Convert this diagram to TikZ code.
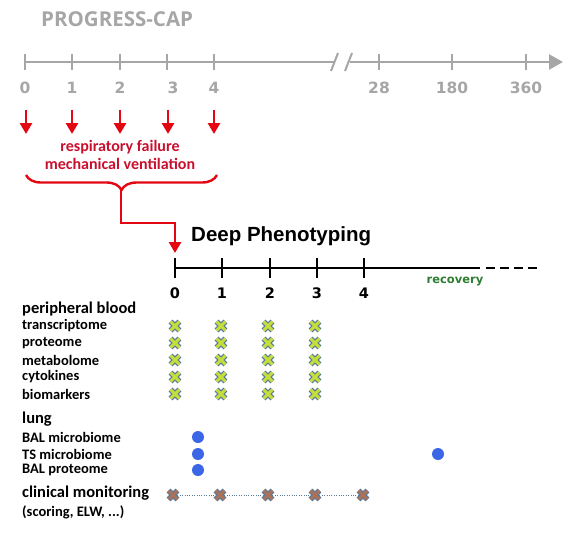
\documentclass[tikz,border=0pt]{standalone}
\usepackage{fontspec}
\setmainfont{Carlito}
\newfontfamily\numfont{DejaVu Sans}
\newfontfamily\headfont{Open Sans}
\newfontfamily\dpfont{Liberation Sans}
\usetikzlibrary{arrows.meta, positioning, shapes.misc, decorations.pathreplacing}

\definecolor{axisgray}{HTML}{A6A6A6}
\definecolor{arrowred}{HTML}{E30613}
\definecolor{textred}{HTML}{C8102E}
\definecolor{recgreen}{HTML}{2E7D32}
\definecolor{markline}{HTML}{5B7A99}
\definecolor{markfill}{HTML}{C6DE3C}
\definecolor{clinfill}{HTML}{A8735A}
\definecolor{dotblue}{HTML}{3B66E6}

\begin{document}
\begin{tikzpicture}[x=1pt, y=-1pt,
  every node/.style={inner sep=0pt},
  gaxis/.style={line width=2.6pt, axisgray},
  gnum/.style={font=\numfont\bfseries\fontsize{15.5}{15.5}\selectfont, text=axisgray},
  bnum/.style={font=\numfont\bfseries\fontsize{14.5}{14.5}\selectfont},
  redarrow/.style={-{Triangle[width=12pt, length=11pt]}, line width=2.8pt, arrowred},
  lbl/.style={font=\bfseries\fontsize{14.5}{14.5}\selectfont, anchor=west},
  hdr/.style={font=\bfseries\fontsize{16.5}{16.5}\selectfont, anchor=west},
  xmark/.style={cross out, minimum size=7.5pt, draw=markline, line width=1.3pt, double=markfill, double distance=3pt},
  clinmark/.style={xmark, double=clinfill},
  dot/.style={circle, fill=dotblue, minimum size=12pt}
]
\useasboundingbox (0,0) rectangle (581,547);

% Title
\node[font=\headfont\bfseries\fontsize{20.5}{20.5}\selectfont, text=axisgray, anchor=west] (title) at (41,19) {PROGRESS-CAP};

% Study time line (days)
\draw[gaxis] (25,62) -- (335,62);
\draw[gaxis, -{Triangle[width=15pt, length=14pt]}] (350,62) -- (563,62);
\draw[gaxis, line width=2pt] (331,71) -- (338,53);
\draw[gaxis, line width=2pt] (345,71) -- (352,53);
\foreach \x in {25,72,120,167,214,379,452,526}
  \draw[gaxis] (\x,54) -- (\x,70);

\node[gnum] (g0) at (25,88) {0};
\node[gnum] (g1) at (72,88) {1};
\node[gnum] (g2) at (120,88) {2};
\node[gnum] (g3) at (173,88) {3};
\node[gnum] (g4) at (214,88) {4};
\node[gnum] (g28) at (379,88) {28};
\node[gnum] (g180) at (452,88) {180};
\node[gnum] (g360) at (526,88) {360};

% Red arrows and brace
\foreach \x [count=\i] in {26,72,120,168,214} {
  \coordinate (r\i) at (\x,110);
  \coordinate (s\i) at (\x,134);
  \draw[redarrow] (r\i) -- (s\i);
}
\node[font=\bfseries\fontsize{16}{18}\selectfont, text=textred, align=center] (mv) at (120,155) {respiratory failure\\mechanical ventilation};
\draw[arrowred, line width=2.4pt, decorate, decoration={brace, mirror, amplitude=15pt}] (26,175) -- (217,175);
\coordinate (bracetip) at (121,190);
\coordinate (dpin) at (175,253);
\draw[redarrow] (bracetip) -- (121,223) -| (dpin);

% Deep phenotyping time line
\node[font=\dpfont\bfseries\fontsize{20.5}{21}\selectfont, anchor=west] (dp) at (191,236) {Deep Phenotyping};
\draw[line width=2.8pt] (175,268) -- (480,268);
\draw[line width=2.8pt, dash pattern=on 9pt off 5pt] (486,268) -- (540,268);
\foreach \x in {175,222,270,317,364}
  \draw[line width=2.4pt] (\x,258) -- (\x,278);
\node[bnum] (d0) at (175,293) {0};
\node[bnum] (d1) at (222,293) {1};
\node[bnum] (d2) at (270,293) {2};
\node[bnum] (d3) at (317,293) {3};
\node[bnum] (d4) at (364,293) {4};
\node[font=\numfont\bfseries\fontsize{11.5}{12}\selectfont, text=recgreen] (rec) at (455,282) {recovery};

% Sample labels
\node[hdr] (pb) at (22,309) {peripheral blood};
\node[lbl] (tr) at (22,326) {transcriptome};
\node[lbl] (pr) at (22,343) {proteome};
\node[lbl] (me) at (22,360) {metabolome};
\node[lbl] (cy) at (22,377) {cytokines};
\node[lbl] (bi) at (22,394) {biomarkers};
\node[hdr] (lu) at (22,419) {lung};
\node[lbl] (bm) at (22,437) {BAL microbiome};
\node[lbl] (ts) at (22,454) {TS microbiome};
\node[lbl] (bp) at (22,470) {BAL proteome};
\node[hdr] (cm) at (22,493) {clinical monitoring};
\node[lbl] (sc) at (22,512) {(scoring, ELW, ...)};

% Blood samples
\foreach \x in {175,221,268,315}
  \foreach \y in {326,343,360,377,394}
    \node[xmark] (m\x-\y) at (\x,\y) {};

% Lung samples
\node[dot] (b1) at (198,437) {};
\node[dot] (b2) at (198,454) {};
\node[dot] (b3) at (198,470) {};
\node[dot] (b4) at (438,454) {};

% Clinical monitoring
\node[clinmark] (c1) at (173,495) {};
\node[clinmark] (c2) at (220,495) {};
\node[clinmark] (c3) at (268,495) {};
\node[clinmark] (c4) at (315,495) {};
\node[clinmark] (c5) at (363,495) {};
\draw[markline, thin, dotted] (c1) -- (c2) -- (c3) -- (c4) -- (c5);

\end{tikzpicture}
\end{document}
